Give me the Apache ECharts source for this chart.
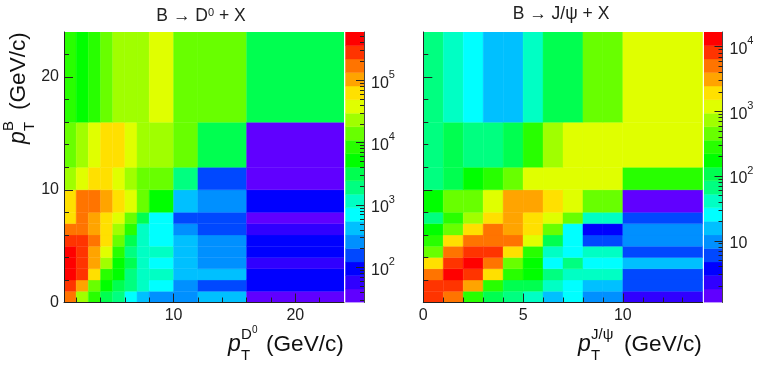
<!DOCTYPE html>
<html>
<head>
<meta charset="utf-8">
<title>B decays</title>
<style>
  html, body { margin: 0; padding: 0; background: #fff; }
  #chart { width: 763px; height: 365px; }
</style>
<script src="https://cdn.jsdelivr.net/npm/echarts@6/dist/echarts.min.js"></script>
</head>
<body>
<div id="chart"></div>
<script>
// bin edges
const ptBEdges = [0, 1, 2, 3, 4, 5, 6, 7, 8, 10, 12, 16, 24]
const ptD0Edges = [1, 2, 3, 4, 5, 6, 7, 8, 10, 12, 16, 24]
const ptJpsiEdges = [0, 1, 2, 3, 4, 5, 6, 7, 8, 9, 10, 14]

// counts per cell, bottom row first, estimated from the colour bands
const d0Counts = [
  [170000, 23200, 8500, 3160, 1900, 708, 427, 260, 260, 427, 35],
  [282000, 102000, 14000, 5190, 3160, 1900, 1160, 708, 260, 158, 96],
  [457000, 282000, 63000, 8500, 5190, 1900, 1160, 1160, 427, 427, 96],
  [457000, 282000, 102000, 23200, 5190, 3160, 1160, 708, 427, 260, 58],
  [457000, 282000, 102000, 38000, 8500, 1900, 1160, 1160, 427, 260, 96],
  [282000, 282000, 170000, 63000, 14000, 3160, 1160, 708, 427, 260, 96],
  [170000, 170000, 102000, 63000, 23200, 8500, 1160, 708, 260, 158, 58],
  [63000, 170000, 102000, 63000, 38000, 14000, 3160, 708, 158, 158, 35],
  [63000, 170000, 170000, 102000, 63000, 38000, 14000, 5190, 427, 260, 96],
  [23200, 38000, 63000, 63000, 38000, 23200, 14000, 14000, 1900, 158, 35],
  [14000, 23200, 38000, 63000, 63000, 38000, 23200, 23200, 14000, 3160, 35],
  [8500, 5190, 8500, 14000, 23200, 23200, 23200, 38000, 14000, 14000, 3160],
]
const jpsiCounts = [
  [8130, 5010, 282, 107, 66, 41, 15.7, 25, 9.7, 9.7, 2.3],
  [8130, 8130, 3090, 282, 107, 107, 41, 25, 15.7, 15.7, 6],
  [5010, 13200, 8130, 1905, 282, 174, 66, 41, 41, 41, 6],
  [1905, 8130, 13200, 5010, 457, 174, 25, 66, 25, 25, 15.7],
  [457, 5010, 8130, 8130, 1905, 282, 41, 25, 41, 41, 6],
  [282, 1905, 5010, 5010, 5010, 1200, 107, 25, 6, 6, 9.7],
  [174, 457, 1905, 5010, 3090, 1905, 457, 25, 3.7, 3.7, 9.7],
  [66, 282, 741, 1905, 3090, 1905, 1200, 457, 41, 41, 6],
  [174, 457, 457, 1200, 3090, 3090, 1905, 1200, 457, 457, 1.4],
  [66, 107, 174, 282, 457, 1200, 1200, 1200, 1200, 1200, 282],
  [66, 107, 66, 66, 107, 282, 741, 1200, 1200, 1200, 1200],
  [66, 41, 25, 15.7, 15.7, 41, 107, 107, 457, 457, 1200],
]

const d0Range = [27.5, 590000]
const jpsiRange = [1.11, 16900]
const d0Decades = [100, 1000, 10000, 100000]
const jpsiDecades = [10, 100, 1000, 10000]
const d0MinorTicks = [30, 40, 50, 60, 70, 80, 90, 200, 300, 400, 500, 600, 700, 800, 900, 2000, 3000, 4000, 5000, 6000, 7000, 8000, 9000, 20000, 30000, 40000, 50000, 60000, 70000, 80000, 90000, 200000, 300000, 400000, 500000]
const jpsiMinorTicks = [2, 3, 4, 5, 6, 7, 8, 9, 20, 30, 40, 50, 60, 70, 80, 90, 200, 300, 400, 500, 600, 700, 800, 900, 2000, 3000, 4000, 5000, 6000, 7000, 8000, 9000]

// ROOT rainbow palette, 20 bands from low to high
const palette = [
  '#6000ff', '#3000ff', '#0000ff', '#0048ff', '#0090ff', '#00c0ff', '#00ffff', '#00ffc4', '#00ff80', '#00ff50',
  '#00ff00', '#28ff00', '#68ff00', '#a0ff00', '#e0ff00', '#ffe000', '#ffa400', '#ff7400', '#ff3400', '#ff0000',
]

const axisColor = '#222'
const font = '"Liberation Sans", Arial, sans-serif'

function bandColor(v, range) {
  const lo = Math.log10(range[0])
  const hi = Math.log10(range[1])
  const i = Math.floor((Math.log10(v) - lo) / (hi - lo) * palette.length)
  return palette[Math.max(0, Math.min(palette.length - 1, i))]
}

function cells(xEdges, yEdges, counts) {
  const out = []
  counts.forEach((row, j) => {
    row.forEach((v, i) => {
      out.push([xEdges[i], xEdges[i + 1], yEdges[j], yEdges[j + 1], v])
    })
  })
  return out
}

function bandCells(range) {
  const lo = Math.log10(range[0])
  const step = (Math.log10(range[1]) - lo) / palette.length
  return palette.map((c, i) => [0, 1, Math.pow(10, lo + i * step), Math.pow(10, lo + (i + 1) * step), i])
}

function renderCell(colorOf) {
  return (params, api) => {
    const p0 = api.coord([api.value(0), api.value(2)])
    const p1 = api.coord([api.value(1), api.value(3)])
    const color = colorOf(api.value(4))
    return {
      type: 'rect',
      shape: { x: p0[0], y: p1[1], width: p1[0] - p0[0], height: p0[1] - p1[1] },
      style: { fill: color, stroke: color, lineWidth: 0.4 },
    }
  }
}

function linearAxis(gridIndex, position, min, max, majors, minors, showLabels) {
  const base = {
    gridIndex, position, type: 'value', min, max, z: 10,
    splitLine: { show: false },
    axisLine: { onZero: false, lineStyle: { color: axisColor, width: 1 } },
  }
  return [
    {
      ...base,
      axisTick: { inside: true, length: 9, lineStyle: { color: axisColor }, customValues: majors },
      axisLabel: {
        show: showLabels, customValues: majors, margin: 5, fontSize: 16,
        color: '#222', fontFamily: font, hideOverlap: false,
      },
    },
    {
      ...base,
      axisLine: { show: false, onZero: false },
      axisTick: { inside: true, length: 5, lineStyle: { color: axisColor }, customValues: minors },
      axisLabel: { show: false },
    },
  ]
}

function barAxes(gridIndex, range, decades, minors) {
  const base = {
    gridIndex, position: 'right', type: 'log', logBase: 10, min: range[0], max: range[1], z: 10,
    splitLine: { show: false },
    axisLine: { onZero: false, lineStyle: { color: '#444', width: 1 } },
  }
  return [
    {
      ...base,
      axisTick: { inside: true, length: 8, lineStyle: { color: axisColor }, customValues: decades },
      axisLabel: {
        customValues: decades, margin: 7, color: '#222', fontFamily: font,
        formatter: (v) => {
          const e = Math.round(Math.log10(v))
          return e === 1 ? '{b|10}' : '{b|10}{s|' + e + '}'
        },
        rich: {
          b: { fontSize: 16, fontFamily: font, color: '#222', lineHeight: 22, verticalAlign: 'bottom' },
          s: { fontSize: 11, fontFamily: font, color: '#222', lineHeight: 22, verticalAlign: 'top' },
        },
      },
    },
    {
      ...base,
      axisLine: { show: false, onZero: false },
      axisTick: { inside: true, length: 4, lineStyle: { color: axisColor }, customValues: minors },
      axisLabel: { show: false },
    },
  ]
}

const barX = (gridIndex) => ({ gridIndex, type: 'value', min: 0, max: 1, show: false })

// pT axis title: italic p with the stacked super/subscript, then the unit
function ptTitle(x, y, rotation, sup, supSup, supWidth) {
  const txt = (tx, ty, text, size, extra) => ({
    type: 'text', x: tx, y: ty,
    style: { text, font: (extra || '') + ' ' + size + 'px ' + font, fill: '#111', textVerticalAlign: 'middle' },
  })
  const children = [
    txt(0, 0, 'p', 23, 'italic'),
    txt(13, -10, sup, 15),
    txt(13, 11, 'T', 15),
    txt(13 + supWidth + 11, 0, '(GeV/c)', 22.6),
  ]
  if (supSup) children.push(txt(13 + supWidth - 3, -15, supSup, 10))
  return { type: 'group', x, y, rotation, children }
}

const titleRich = {
  s: { fontSize: 11, fontFamily: font, color: '#222', verticalAlign: 'top', lineHeight: 18 },
}

const option = {
  animation: false,
  backgroundColor: '#fff',
  title: [
    {
      text: 'B → D{s|0} + X', left: 196, top: 2, textAlign: 'center',
      textStyle: { fontSize: 17.5, fontWeight: 'normal', color: '#222', fontFamily: font, rich: titleRich },
    },
    {
      text: 'B → J/ψ + X', left: 556, top: 0, textAlign: 'center',
      textStyle: { fontSize: 17.5, fontWeight: 'normal', color: '#222', fontFamily: font },
    },
  ],
  grid: [
    { left: 64, top: 32, width: 280, height: 270.5 },
    { left: 345.5, top: 32, width: 18.5, height: 270.5 },
    { left: 423.3, top: 32, width: 279.4, height: 270.5 },
    { left: 704, top: 32, width: 18.5, height: 270.5 },
  ],
  xAxis: [
    ...linearAxis(0, 'bottom', 1, 24, [10, 20], [2, 4, 6, 8, 12, 14, 16, 18, 22], true),
    barX(1),
    ...linearAxis(2, 'bottom', 0, 14, [0, 5, 10], [1, 2, 3, 4, 6, 7, 8, 9, 11, 12, 13], true),
    barX(3),
  ],
  yAxis: [
    ...linearAxis(0, 'left', 0, 24, [0, 10, 20], [2, 4, 6, 8, 12, 14, 16, 18, 22], true),
    ...barAxes(1, d0Range, d0Decades, d0MinorTicks),
    ...linearAxis(2, 'left', 0, 24, [0, 10, 20], [2, 4, 6, 8, 12, 14, 16, 18, 22], false),
    ...barAxes(3, jpsiRange, jpsiDecades, jpsiMinorTicks),
  ],
  series: [
    {
      type: 'custom', xAxisIndex: 0, yAxisIndex: 0, clip: true,
      renderItem: renderCell((v) => bandColor(v, d0Range)),
      encode: { x: [0, 1], y: [2, 3] },
      data: cells(ptD0Edges, ptBEdges, d0Counts),
      z: 1,
    },
    {
      type: 'custom', xAxisIndex: 2, yAxisIndex: 2, clip: true,
      renderItem: renderCell((i) => palette[i]),
      encode: { x: [0, 1], y: [2, 3] },
      data: bandCells(d0Range),
      z: 1,
    },
    {
      type: 'custom', xAxisIndex: 3, yAxisIndex: 4, clip: true,
      renderItem: renderCell((v) => bandColor(v, jpsiRange)),
      encode: { x: [0, 1], y: [2, 3] },
      data: cells(ptJpsiEdges, ptBEdges, jpsiCounts),
      z: 1,
    },
    {
      type: 'custom', xAxisIndex: 5, yAxisIndex: 6, clip: true,
      renderItem: renderCell((i) => palette[i]),
      encode: { x: [0, 1], y: [2, 3] },
      data: bandCells(jpsiRange),
      z: 1,
    },
  ],
  graphic: [
    ptTitle(228, 345, 0, 'D', '0', 14),
    ptTitle(578, 345, 0, 'J/ψ', '', 22),
    ptTitle(19, 144, Math.PI / 2, 'B', '', 10),
  ],
}

const chart = echarts.init(document.getElementById('chart'), null, { renderer: 'canvas' })
chart.setOption(option)
</script>
</body>
</html>
